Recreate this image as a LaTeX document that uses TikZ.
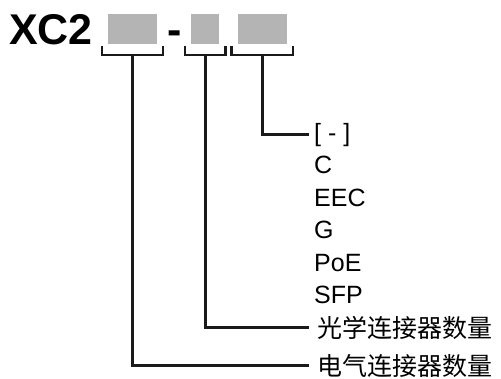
\documentclass[tikz,border=0pt]{standalone}
\usepackage{fontspec}
\setmainfont{Liberation Sans}
\newfontfamily\cjk{Noto Sans CJK SC}
\usetikzlibrary{positioning,calc}
\definecolor{slotgray}{HTML}{B4B4B4}
\definecolor{leadblack}{HTML}{1A1A1A}

\begin{document}
\begin{tikzpicture}[
  x=1pt, y=-1pt,
  slot/.style={
    rectangle, fill=slotgray, draw=none,
    minimum height=30pt, inner sep=0pt
  },
  bracket/.style={
    draw=leadblack, line width=2.5pt
  },
  lead/.style={
    draw=leadblack, line width=2.5pt
  },
  optlabel/.style={
    anchor=base west, inner xsep=5pt, inner ysep=0pt,
    font=\fontsize{25}{30}\selectfont
  },
  cjklabel/.style={
    anchor=base west, inner xsep=8pt, inner ysep=0pt,
    font=\fontsize{25}{30}\selectfont\cjk
  }
]
\useasboundingbox (0,0) rectangle (501,378);

% ---- Type code ----
\node[anchor=base west, inner sep=0pt, font=\fontsize{43}{50}\selectfont\bfseries] (code) at (9,44) {XC2};
\node[slot, minimum width=49pt] (s1) at (132.5,29) {};
\node[slot, minimum width=28pt, right=34pt of s1] (s2) {};
\node[slot, minimum width=49pt, right=18pt of s2] (s3) {};
\coordinate (gap) at ($(s1.east)!0.5!(s2.west)$);
\node[anchor=base, inner sep=0pt, font=\fontsize{43}{50}\selectfont\bfseries] (dash)
  at (gap |- code.base) {-};

% Brackets under the slots
\draw[bracket] ($(s1.south west)+(-6,2)$) -- ++(0,9) -- ($(s1.south east)+(6,11)$) -- ++(0,-9);
\draw[bracket] ($(s2.south west)+(-6,2)$) -- ++(0,9) -- ($(s2.south east)+(6,11)$) -- ++(0,-9);
\draw[bracket] ($(s3.south west)+(-6,2)$) -- ++(0,9) -- ($(s3.south east)+(6,11)$) -- ++(0,-9);
\coordinate (b1) at ($(s1.south)+(0,11)$);
\coordinate (b2) at ($(s2.south)+(0,11)$);
\coordinate (b3) at ($(s3.south)+(0,11)$);

% ---- Labels ----
\node[optlabel] (o1) at (309,141) {[ - ]};
\node[optlabel] (o2) at (309,173.5) {C};
\node[optlabel] (o3) at (309,206) {EEC};
\node[optlabel] (o4) at (309,238.5) {G};
\node[optlabel] (o5) at (309,271) {PoE};
\node[optlabel] (o6) at (309,303.5) {SFP};
\node[cjklabel] (optic) at (309,337) {光学连接器数量};
\node[cjklabel] (elec) at (309,375) {电气连接器数量};

% Leads from brackets to labels
\draw[lead] (b3) |- (o1.west);
\draw[lead] (b2) |- (optic.west);
\draw[lead] (b1) |- (elec.west);

\end{tikzpicture}
\end{document}
